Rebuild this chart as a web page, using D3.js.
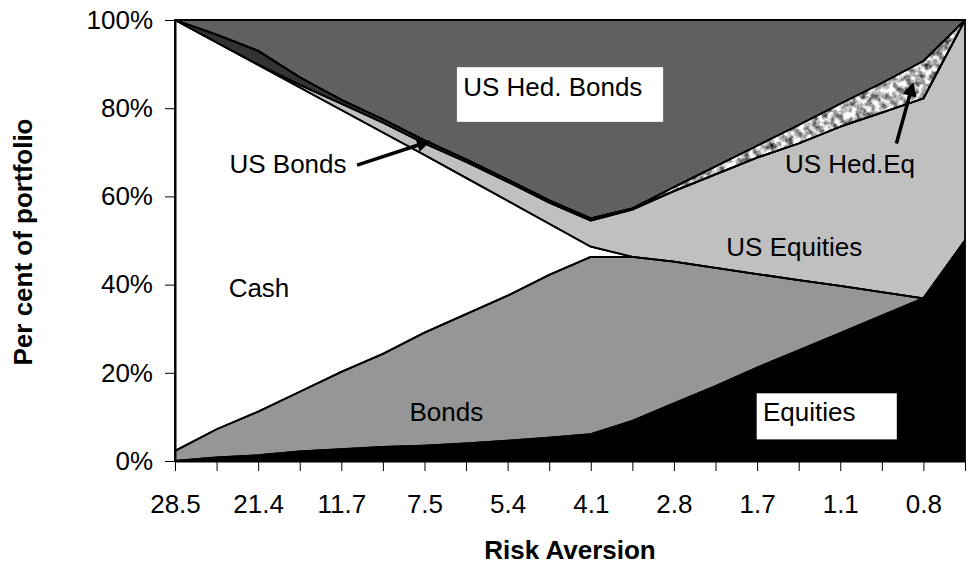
<!DOCTYPE html>
<html>
<head>
<meta charset="utf-8">
<script src="https://cdn.jsdelivr.net/npm/d3@7"></script>
<style>
  body { margin: 0; background: #fff; }
  svg { display: block; font-family: Arial, "Liberation Sans", sans-serif; }
</style>
</head>
<body>
<div id="chart"></div>
<script>
// risk aversion categories (only every other one is labelled on the axis)
const riskAversion = ["28.5", "", "21.4", "", "11.7", "", "7.5", "", "5.4", "", "4.1", "", "2.8", "", "1.7", "", "1.1", "", "0.8", ""];

// per cent of portfolio
const equities     = [0, 0.8, 1.3, 2.2, 2.7, 3.2, 3.5, 4.0, 4.6, 5.3, 6.1, 9.1, 13.1, 17.0, 21.2, 25.1, 29.0, 33.0, 36.9, 50.0];
const bonds        = [2.3, 6.4, 9.9, 13.5, 17.5, 21.1, 25.6, 29.3, 32.9, 36.9, 40.2, 37.2, 32.1, 26.8, 21.2, 15.9, 10.7, 5.3, 0, 0];
const cash         = [97.7, 87.7, 78.6, 69.0, 59.4, 50.2, 40.3, 30.9, 21.5, 11.6, 2.3, 0, 0, 0, 0, 0, 0, 0, 0, 0];
const usEquities   = [0, 0, 0.1, 0.6, 1.4, 2.2, 2.6, 3.6, 4.3, 4.8, 5.9, 10.7, 16.0, 21.2, 26.4, 31.0, 36.1, 40.7, 45.3, 50.0];
const usBonds      = [0, 1.8, 3.1, 1.7, 0.9, 0.8, 0.7, 0.6, 0.5, 0.5, 0.5, 0.3, 0, 0, 0, 0, 0, 0, 0, 0];
const usHedEq      = [0, 0, 0, 0, 0, 0, 0, 0, 0, 0, 0, 0, 0.9, 1.8, 2.7, 4.2, 5.2, 6.7, 8.5, 0];
const usHedBonds   = [0, 3.3, 7.0, 13.0, 18.1, 22.5, 27.3, 31.6, 36.2, 40.9, 45.0, 42.7, 37.9, 33.2, 28.5, 23.8, 19.0, 14.3, 9.3, 0];

const seriesNames = ["Equities", "Bonds", "Cash", "US Equities", "US Bonds", "US Hed.Eq", "US Hed. Bonds"];
const seriesValues = [equities, bonds, cash, usEquities, usBonds, usHedEq, usHedBonds];
const seriesFills = ["#000000", "#969696", "#ffffff", "#c0c0c0", "#333333", "#ffffff", "url(#dots)"];

const yTicks = [0, 0.2, 0.4, 0.6, 0.8, 1];

// annotations: t = category position, v = share of portfolio
const notes = [
  { text: "US Hed. Bonds", t: 6.93, v: 0.828, box: [6.78, 11.74, 0.893, 0.769] },
  { text: "US Bonds", t: 1.31, v: 0.653 },
  { text: "Cash", t: 1.29, v: 0.373 },
  { text: "Bonds", t: 5.64, v: 0.09 },
  { text: "US Equities", t: 13.26, v: 0.465 },
  { text: "US Hed.Eq", t: 14.67, v: 0.653 },
  { text: "Equities", t: 14.14, v: 0.09, box: [13.99, 17.36, 0.1535, 0.049] }
];
const arrows = [
  { from: [4.38, 0.671], to: [6.09, 0.724] },
  { from: [17.35, 0.720], to: [17.74, 0.853] }
];

var width = 968;
var height = 577;
var plotLeft = 175, plotRight = 965, plotTop = 20, plotBottom = 461;

const rows = riskAversion.map((r, i) => {
  const row = { i: i };
  seriesNames.forEach((k, j) => row[k] = seriesValues[j][i]);
  return row;
});

const stacked = d3.stack()
  .keys(seriesNames)
  .offset(d3.stackOffsetExpand)(rows);

const x = d3.scalePoint()
  .domain(d3.range(riskAversion.length))
  .range([plotLeft, plotRight]);
const xAt = t => x(0) + t * x.step();

const y = d3.scaleLinear()
  .domain([0, 1])
  .range([plotBottom, plotTop]);

const svg = d3.select("#chart")
  .append("svg")
  .attr("width", width)
  .attr("height", height);

const defs = svg.append("defs");

// fine dotted texture of the hedged bonds area
const dots = defs.append("pattern")
  .attr("id", "dots")
  .attr("patternUnits", "userSpaceOnUse")
  .attr("width", 2)
  .attr("height", 2);
dots.append("rect").attr("width", 2).attr("height", 2).attr("fill", "#555555");
dots.append("rect").attr("width", 1).attr("height", 1).attr("fill", "#6c6c6c");
dots.append("rect").attr("x", 1).attr("y", 1).attr("width", 1).attr("height", 1).attr("fill", "#6c6c6c");

// mottled texture of the hedged equities area
const speckle = defs.append("filter")
  .attr("id", "speckle")
  .attr("color-interpolation-filters", "sRGB")
  .attr("x", "-5%").attr("y", "-5%")
  .attr("width", "110%").attr("height", "110%");
speckle.append("feTurbulence")
  .attr("type", "fractalNoise")
  .attr("baseFrequency", 0.16)
  .attr("numOctaves", 3)
  .attr("seed", 7)
  .attr("result", "noise");
speckle.append("feColorMatrix")
  .attr("in", "noise")
  .attr("type", "matrix")
  .attr("values", "1.6 0 0 0 -0.08  1.6 0 0 0 -0.08  1.6 0 0 0 -0.08  0 0 0 0 1")
  .attr("result", "grey");
speckle.append("feComposite")
  .attr("in", "grey")
  .attr("in2", "SourceGraphic")
  .attr("operator", "in");

defs.append("marker")
  .attr("id", "arrow")
  .attr("viewBox", "0 0 10 10")
  .attr("refX", 8)
  .attr("refY", 5)
  .attr("markerWidth", 4.5)
  .attr("markerHeight", 4)
  .attr("orient", "auto")
  .append("path")
  .attr("d", "M0,0L10,5L0,10z")
  .attr("fill", "#000");

const area = d3.area()
  .x(d => x(d.data.i))
  .y0(d => y(d[0]))
  .y1(d => y(d[1]));

const g = svg.append("g");

g.selectAll("path.fill")
  .data(stacked)
  .join("path")
  .attr("class", "fill")
  .attr("d", area)
  .attr("fill", (d, j) => seriesFills[j])
  .attr("filter", d => d.key === "US Hed.Eq" ? "url(#speckle)" : null);

g.selectAll("path.edge")
  .data(stacked)
  .join("path")
  .attr("class", "edge")
  .attr("d", area)
  .attr("fill", "none")
  .attr("stroke", "#000")
  .attr("stroke-width", 1.8)
  .attr("stroke-linejoin", "round");

// axes
const xAxis = svg.append("g")
  .attr("transform", `translate(0,${plotBottom})`)
  .call(d3.axisBottom(x)
    .tickSize(10)
    .tickSizeOuter(0)
    .tickPadding(24)
    .tickFormat(i => riskAversion[i]));

const yAxis = svg.append("g")
  .attr("transform", `translate(${plotLeft},0)`)
  .call(d3.axisLeft(y)
    .tickValues(yTicks)
    .tickSize(10)
    .tickSizeOuter(0)
    .tickPadding(12)
    .tickFormat(d3.format(".0%")));

[xAxis, yAxis].forEach(a => {
  a.select(".domain").attr("stroke", "#000").attr("stroke-width", 2);
  a.selectAll(".tick line").attr("stroke", "#000").attr("stroke-width", 1);
  a.selectAll(".tick text")
    .attr("fill", "#000")
    .style("font-size", "26px")
    .style("font-family", "Arial, 'Liberation Sans', sans-serif");
});

// annotation boxes and labels
const labels = svg.append("g");

labels.selectAll("rect")
  .data(notes.filter(n => n.box))
  .join("rect")
  .attr("x", d => xAt(d.box[0]))
  .attr("width", d => xAt(d.box[1]) - xAt(d.box[0]))
  .attr("y", d => y(d.box[2]))
  .attr("height", d => y(d.box[3]) - y(d.box[2]))
  .attr("fill", "#fff");

labels.selectAll("text")
  .data(notes)
  .join("text")
  .attr("x", d => xAt(d.t))
  .attr("y", d => y(d.v))
  .attr("fill", "#000")
  .style("font-size", "26px")
  .text(d => d.text);

labels.selectAll("line")
  .data(arrows)
  .join("line")
  .attr("x1", d => xAt(d.from[0]))
  .attr("y1", d => y(d.from[1]))
  .attr("x2", d => xAt(d.to[0]))
  .attr("y2", d => y(d.to[1]))
  .attr("stroke", "#000")
  .attr("stroke-width", 3.5)
  .attr("marker-end", "url(#arrow)");

// axis titles
svg.append("text")
  .attr("x", (plotLeft + plotRight) / 2)
  .attr("y", 559)
  .attr("text-anchor", "middle")
  .style("font-size", "26px")
  .style("font-weight", "bold")
  .text("Risk Aversion");

svg.append("text")
  .attr("transform", "translate(32,242) rotate(-90)")
  .attr("text-anchor", "middle")
  .style("font-size", "26px")
  .style("font-weight", "bold")
  .text("Per cent of portfolio");
</script>
</body>
</html>
